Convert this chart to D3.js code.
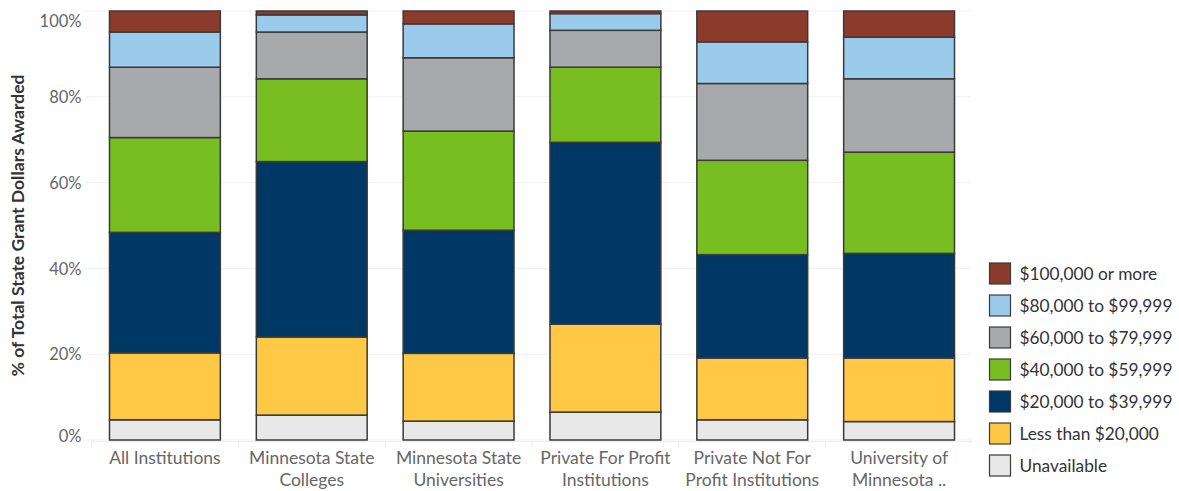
<!DOCTYPE html>
<html>
<head>
<meta charset="utf-8">
<script src="https://cdn.jsdelivr.net/npm/d3@7"></script>
<style>
  body { margin: 0; background: #fff; }
  svg text { font-family: Lato, "Open Sans", sans-serif; }
</style>
</head>
<body>
<svg id="chart" width="1179" height="491"></svg>
<script>
const institutions = [
  ["All Institutions"],
  ["Minnesota State", "Colleges"],
  ["Minnesota State", "Universities"],
  ["Private For Profit", "Institutions"],
  ["Private Not For", "Profit Institutions"],
  ["University of", "Minnesota .."]
];

// stacking order, bottom to top
const brackets = [
  "Unavailable",
  "Less than $20,000",
  "$20,000 to $39,999",
  "$40,000 to $59,999",
  "$60,000 to $79,999",
  "$80,000 to $99,999",
  "$100,000 or more"
];

const bracketColors = ["#e8e8e8", "#ffc845", "#003865", "#78be20", "#a7a9ac", "#9acbea", "#8b3b2c"];

// % of total state grant dollars, one row per institution, columns follow brackets
const shares = [
  [4.7, 15.6, 28.1, 22.1, 16.4, 8.2, 4.9],
  [5.8, 18.2, 40.9, 19.3, 10.9, 4.0, 0.9],
  [4.4, 15.8, 28.7, 23.1, 17.1, 7.9, 3.0],
  [6.5, 20.5, 42.4, 17.5, 8.6, 3.9, 0.6],
  [4.7, 14.4, 24.1, 22.0, 17.9, 9.7, 7.2],
  [4.3, 14.8, 24.4, 23.6, 17.1, 9.7, 6.1]
];

const yTicks = [0, 20, 40, 60, 80, 100];

const plotLeft = 91.5, plotRight = 972.5, plotTop = 11, plotBottom = 440;
const svg = d3.select("#chart");

let x = d3.scaleBand()
  .domain(d3.range(institutions.length))
  .range([plotLeft, plotRight])
  .paddingInner(0.245)
  .paddingOuter(0.1225);

let y = d3.scaleLinear().domain([0, 100]).range([plotBottom, plotTop]);

// gridlines
svg.append("g")
  .selectAll("line")
  .data(yTicks)
  .join("line")
  .attr("x1", 85).attr("x2", 971)
  .attr("y1", d => y(d)).attr("y2", d => y(d))
  .attr("stroke", "#f0f0f0")
  .attr("stroke-width", 1);

// y axis labels
let yAxis = svg.append("g")
  .attr("transform", `translate(${plotLeft - 10},0)`)
  .call(d3.axisLeft(y).tickValues(yTicks).tickFormat(d => d + "%").tickSize(0).tickPadding(0));
yAxis.select(".domain").remove();
yAxis.selectAll("text")
  .attr("fill", "#666")
  .attr("font-size", 16.5)
  .attr("dy", d => d === 100 ? "0.95em" : d === 0 ? "0.1em" : "0.35em");

svg.append("text")
  .attr("transform", `translate(24,${(plotTop + plotBottom) / 2}) rotate(-90)`)
  .attr("text-anchor", "middle")
  .attr("font-size", 17.5)
  .attr("font-weight", "bold")
  .attr("fill", "#333")
  .text("% of Total State Grant Dollars Awarded");

// stacked bars
let rows = shares.map((r, i) => {
  let o = {inst: i};
  brackets.forEach((b, j) => o[b] = r[j]);
  return o;
});
let series = d3.stack().keys(brackets)(rows);
let color = d3.scaleOrdinal().domain(brackets).range(bracketColors);

svg.append("g")
  .selectAll("g")
  .data(series)
  .join("g")
  .attr("fill", d => color(d.key))
  .selectAll("rect")
  .data(d => d)
  .join("rect")
  .attr("x", d => x(d.data.inst))
  .attr("width", x.bandwidth())
  .attr("y", d => y(d[1]))
  .attr("height", d => y(d[0]) - y(d[1]))
  .attr("stroke", "#3a3a3a")
  .attr("stroke-width", 1.5);

// header line and dividers under the bars
let base = plotBottom + 1.7;
svg.append("line")
  .attr("x1", plotLeft).attr("x2", plotRight)
  .attr("y1", base).attr("y2", base)
  .attr("stroke", "#ececec");
svg.append("g")
  .selectAll("line")
  .data(d3.range(institutions.length))
  .join("line")
  .attr("x1", d => x(d) - x.step() * x.paddingInner() / 2)
  .attr("x2", d => x(d) - x.step() * x.paddingInner() / 2)
  .attr("y1", base).attr("y2", base + 6)
  .attr("stroke", "#ececec");

// category labels
let xl = svg.append("g")
  .selectAll("text")
  .data(institutions)
  .join("text")
  .attr("x", (d, i) => x(i) + x.bandwidth() / 2)
  .attr("y", 464)
  .attr("text-anchor", "middle")
  .attr("font-size", 17.5)
  .attr("fill", "#666");
xl.selectAll("tspan")
  .data(d => d)
  .join("tspan")
  .attr("x", function() { return this.parentNode.getAttribute("x"); })
  .attr("dy", (d, i) => i === 0 ? 0 : 22)
  .text(d => d);

// legend, top bracket first
let legend = svg.append("g")
  .selectAll("g")
  .data(brackets.slice().reverse())
  .join("g")
  .attr("transform", (d, i) => `translate(989.5,${263 + i * 32})`);
legend.append("rect")
  .attr("width", 21).attr("height", 21)
  .attr("fill", d => color(d))
  .attr("stroke", "#3a3a3a")
  .attr("stroke-width", 1.2);
legend.append("text")
  .attr("x", 30)
  .attr("y", 11)
  .attr("dy", "0.35em")
  .attr("font-size", 17.3)
  .attr("fill", "#333")
  .text(d => d);
</script>
</body>
</html>
